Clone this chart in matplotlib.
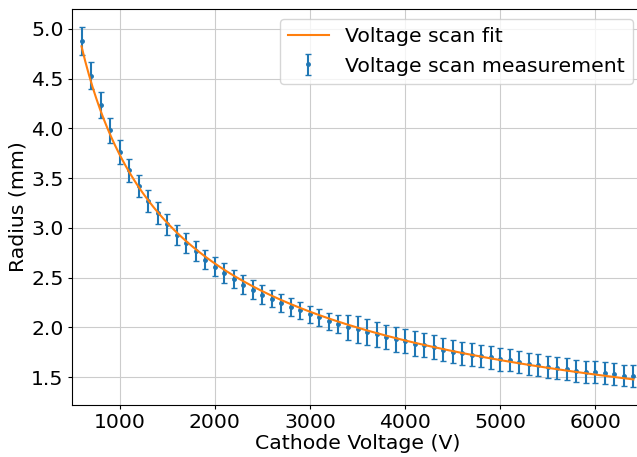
import numpy as np
import matplotlib
matplotlib.use("Agg")
import matplotlib.pyplot as plt

voltage = np.arange(600, 6401, 100)
radius = [4.88, 4.53, 4.235, 3.98, 3.765, 3.58, 3.42, 3.27, 3.15, 3.036,
          2.93, 2.845, 2.77, 2.68, 2.61, 2.548, 2.487, 2.43, 2.38, 2.33,
          2.29, 2.245, 2.205, 2.17, 2.13, 2.10, 2.06, 2.035, 2.00, 1.98,
          1.955, 1.93, 1.905, 1.88, 1.862, 1.838, 1.82, 1.80, 1.775, 1.755,
          1.74, 1.725, 1.71, 1.70, 1.68, 1.67, 1.65, 1.635, 1.625, 1.605,
          1.59, 1.58, 1.565, 1.555, 1.55, 1.54, 1.53, 1.515, 1.51]
radius_err = [0.139, 0.134, 0.129, 0.123, 0.121, 0.116, 0.112, 0.109, 0.109, 0.106,
              0.104, 0.102, 0.100, 0.097, 0.098, 0.099, 0.094, 0.094, 0.094, 0.092,
              0.089, 0.087, 0.089, 0.089, 0.089, 0.086, 0.089, 0.087, 0.129, 0.136,
              0.131, 0.124, 0.124, 0.124, 0.121, 0.121, 0.119, 0.119, 0.116, 0.114,
              0.114, 0.114, 0.112, 0.114, 0.114, 0.112, 0.112, 0.112, 0.112, 0.112,
              0.112, 0.109, 0.109, 0.109, 0.109, 0.109, 0.109, 0.109, 0.109]

# fit r = k / sqrt(V), least squares on the measurements
r_arr = np.asarray(radius)
basis = voltage ** -0.5
k = np.sum(r_arr * basis) / np.sum(basis * basis)
v_fit = np.linspace(voltage[0], voltage[-1], 300)
r_fit = k * v_fit ** -0.5

plt.rcParams['font.size'] = 14.7
fig = plt.figure(figsize=(6.37, 4.57), dpi=100)
ax = fig.add_axes([72/637, 52/457, 571/637, 396/457])
ax.errorbar(voltage, radius, yerr=radius_err, fmt='.', color='tab:blue',
            ecolor='tab:blue', capsize=2, markersize=5, elinewidth=1.5,
            label='Voltage scan measurement', zorder=2)
ax.plot(v_fit, r_fit, color='tab:orange', lw=1.5, label='Voltage scan fit', zorder=3)
ax.set_xlim(500, 6500)
ax.set_ylim(1.22, 5.2)
ax.tick_params(length=3, pad=3)
ax.grid(True, color='#cccccc')
ax.set_axisbelow(True)
ax.set_xlabel('Cathode Voltage (V)', labelpad=1)
ax.set_ylabel('Radius (mm)', labelpad=3)
ax.legend(loc='upper right')
fig.savefig('out.png', dpi=100)
